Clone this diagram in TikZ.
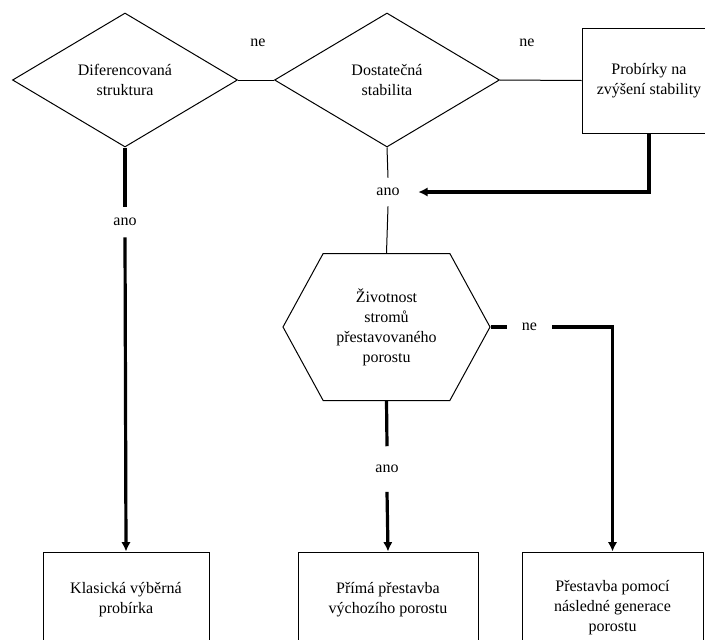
\documentclass[tikz,border=0pt]{standalone}
\usepackage{fontspec}
\setmainfont{Liberation Serif}
\usetikzlibrary{shapes.geometric,shapes.symbols,arrows.meta}
\begin{document}
\begin{tikzpicture}[x=0.75pt, y=-0.75pt,
        every node/.style={font=\fontsize{12}{15}\selectfont, align=center},
        decision/.style={draw, diamond, inner sep=0pt, line width=0.75pt,
            minimum width=168.75pt, minimum height=100.5pt},
        stepbox/.style={draw, rectangle, line width=0.75pt},
        answer/.style={inner sep=0pt, minimum width=15pt},
        thin/.style={line width=0.75pt},
        thick/.style={line width=2.4pt},
        flow/.style={thick, -{Latex[length=7pt,width=7pt]}}]
        \clip (0,0) rectangle (705,639);

        \node[decision] (struct) at (125,80) {Diferencovaná\\struktura};
        \node[decision] (stab) at (387,80) {Dostatečná\\stabilita};
        \node[stepbox, minimum width=100.5pt, minimum height=78.75pt] (thin1) at (649,80.5) {Probírky na\\zvýšení stability};

        \node[draw, signal, signal to=east and west, signal pointer angle=122.7,
            line width=0.75pt, inner sep=0pt, minimum width=155.25pt, minimum height=110.25pt]
            (life) at (386.5,327) {Životnost\\stromů\\přestavovaného\\porostu};

        \node[stepbox, minimum width=124.5pt, minimum height=72pt] (classic) at (126,600) {Klasická výběrná\\probírka};
        \node[stepbox, minimum width=135pt, minimum height=72pt] (direct) at (388,600) {Přímá přestavba\\výchozího porostu};
        \node[stepbox, minimum width=135.75pt, minimum height=84pt] (nextgen) at (612.5,608) {Přestavba pomocí\\následné generace\\porostu};

        \node (ne1) at (258,43) {ne};
        \node (ne2) at (527,43) {ne};
        \node[answer, minimum height=22.5pt] (ano1) at (125,222) {ano};
        \node[answer, minimum width=45pt, minimum height=21pt] (ano2) at (388,192) {ano};
        \node[answer, minimum height=33.75pt] (ano3) at (387,469) {ano};
        \node[answer, minimum width=33.75pt] (ne3) at (529.5,327) {ne};

        \draw[thin] (struct.east) -- (stab.west);
        \draw[thin] (stab.east) -- (thin1.west);
        \draw[thin] (stab.south) -- (ano2.north);
        \draw[thin] (ano2.south) -- (life.north);
        \draw[flow] (thin1.south) |- (ano2.east);

        \draw[thick] (struct.south) -- (ano1.north);
        \draw[flow] (ano1.south) -- (classic.north);
        \draw[thick] (life.south) -- (ano3.north);
        \draw[flow] (ano3.south) -- (direct.north);
        \draw[thick] (life.east) -- (ne3.west);
        \draw[flow] (ne3.east) -| (nextgen.north);
    \end{tikzpicture}
\end{document}
